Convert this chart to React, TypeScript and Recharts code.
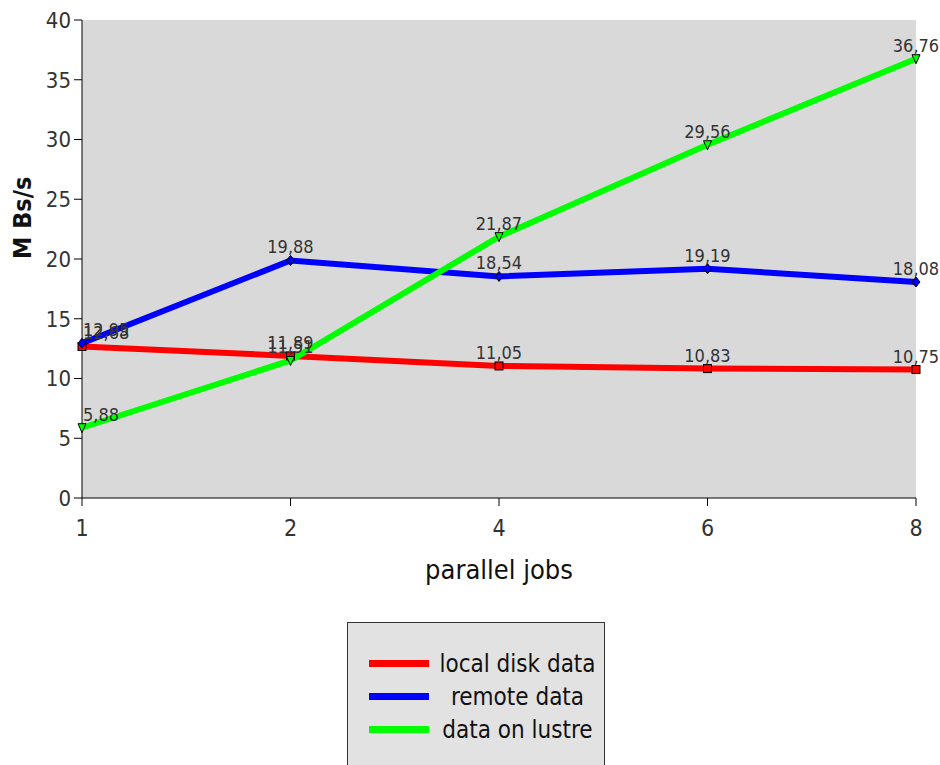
import React from 'react';
import {
  LineChart,
  Line,
  XAxis,
  YAxis,
  CartesianGrid,
  Legend,
  LabelList,
} from 'recharts';

const jobs = ['1', '2', '4', '6', '8'];
const localDisk = [12.68, 11.89, 11.05, 10.83, 10.75];
const remote = [12.95, 19.88, 18.54, 19.19, 18.08];
const lustre = [5.88, 11.51, 21.87, 29.56, 36.76];
const yTicks = [0, 5, 10, 15, 20, 25, 30, 35, 40];

const data = jobs.map((j, i) => ({
  jobs: j,
  local: localDisk[i],
  remote: remote[i],
  lustre: lustre[i],
}));

const FONT = '"DejaVu Sans", sans-serif';

const series = [
  { key: 'local', name: 'local disk data', color: '#ff0000', shape: 'square' },
  { key: 'remote', name: 'remote data', color: '#0000ff', shape: 'diamond' },
  { key: 'lustre', name: 'data on lustre', color: '#00ff00', shape: 'triangle' },
];

const makeDot = (shape: string, color: string) => (props: any) => {
  const { cx, cy, index } = props;
  if (cx == null || cy == null) return <g key={index} />;
  if (shape === 'square') {
    return <rect key={index} x={cx - 4} y={cy - 4} width={8} height={8} fill={color} stroke="#000" strokeWidth={1} />;
  }
  if (shape === 'diamond') {
    return (
      <path key={index} d={`M${cx},${cy - 5}L${cx + 4},${cy}L${cx},${cy + 5}L${cx - 4},${cy}Z`} fill={color} stroke="#000" strokeWidth={1} />
    );
  }
  return (
    <path key={index} d={`M${cx - 4},${cy - 4}L${cx + 4},${cy - 4}L${cx},${cy + 5}Z`} fill={color} stroke="#000" strokeWidth={1} />
  );
};

const valueLabel = (props: any) => {
  const { x, y, value, index } = props;
  const text = String(value.toFixed(2)).replace('.', ',');
  const first = index === 0;
  return (
    <text
      x={first ? x + 1 : x}
      y={y - 7}
      textAnchor={first ? 'start' : 'middle'}
      fontSize={18}
      fontFamily={FONT}
      fill="#333"
    >
      {text}
    </text>
  );
};

const LegendBox = () => (
  <div
    style={{
      width: 258,
      height: 150,
      background: '#e2e2e2',
      border: '1px solid #333',
      boxSizing: 'border-box',
      fontFamily: FONT,
      fontStretch: 'condensed',
      fontSize: 24,
      color: '#111',
      paddingTop: 24,
      whiteSpace: 'nowrap',
    }}
  >
    {series.map((s) => (
      <div key={s.key} style={{ display: 'flex', alignItems: 'center', height: 33 }}>
        <div style={{ width: 60, height: 7, background: s.color, marginLeft: 21, marginRight: 8 }} />
        <div style={{ flex: 1, textAlign: 'center', paddingRight: 6 }}>{s.name}</div>
      </div>
    ))}
  </div>
);

export default function App() {
  return (
    <div
      style={{
        position: 'absolute',
        left: 0,
        top: 0,
        width: 940,
        height: 765,
        background: '#fff',
        overflow: 'hidden',
        fontFamily: FONT,
        fontStretch: 'condensed',
      }}
    >
      <LineChart width={940} height={765} data={data} margin={{ top: 20, right: 24, bottom: 0, left: 0 }}>
        <CartesianGrid fill="#d9d9d9" horizontal={false} vertical={false} />
        <XAxis
          dataKey="jobs"
          height={267}
          stroke="#000"
          tickSize={8}
          tick={{ fontSize: 23, fontFamily: FONT, fill: '#333' }}
          tickMargin={14}
          label={{ value: 'parallel jobs', position: 'insideTop', offset: 62, fontSize: 27, fontFamily: FONT, fill: '#111' }}
        />
        <YAxis
          domain={[0, 40]}
          ticks={yTicks}
          width={82}
          stroke="#000"
          tickSize={8}
          tick={{ fontSize: 22, fontFamily: FONT, fill: '#333' }}
          tickMargin={3}
          label={{ value: 'M Bs/s', angle: -90, position: 'insideLeft', offset: 22, fontSize: 25, fontWeight: 'bold', fontFamily: FONT, fill: '#111' }}
        />
        <Legend
          layout="vertical"
          align="center"
          verticalAlign="middle"
          wrapperStyle={{ top: 622, left: 347, width: 258, height: 150 }}
          content={() => <LegendBox />}
        />
        {series.map((s) => (
          <Line
            key={s.key}
            type="linear"
            dataKey={s.key}
            name={s.name}
            stroke={s.color}
            strokeWidth={6}
            dot={makeDot(s.shape, s.color)}
            activeDot={false}
            isAnimationActive={false}
          >
            <LabelList dataKey={s.key} content={valueLabel} />
          </Line>
        ))}
      </LineChart>
    </div>
  );
}
